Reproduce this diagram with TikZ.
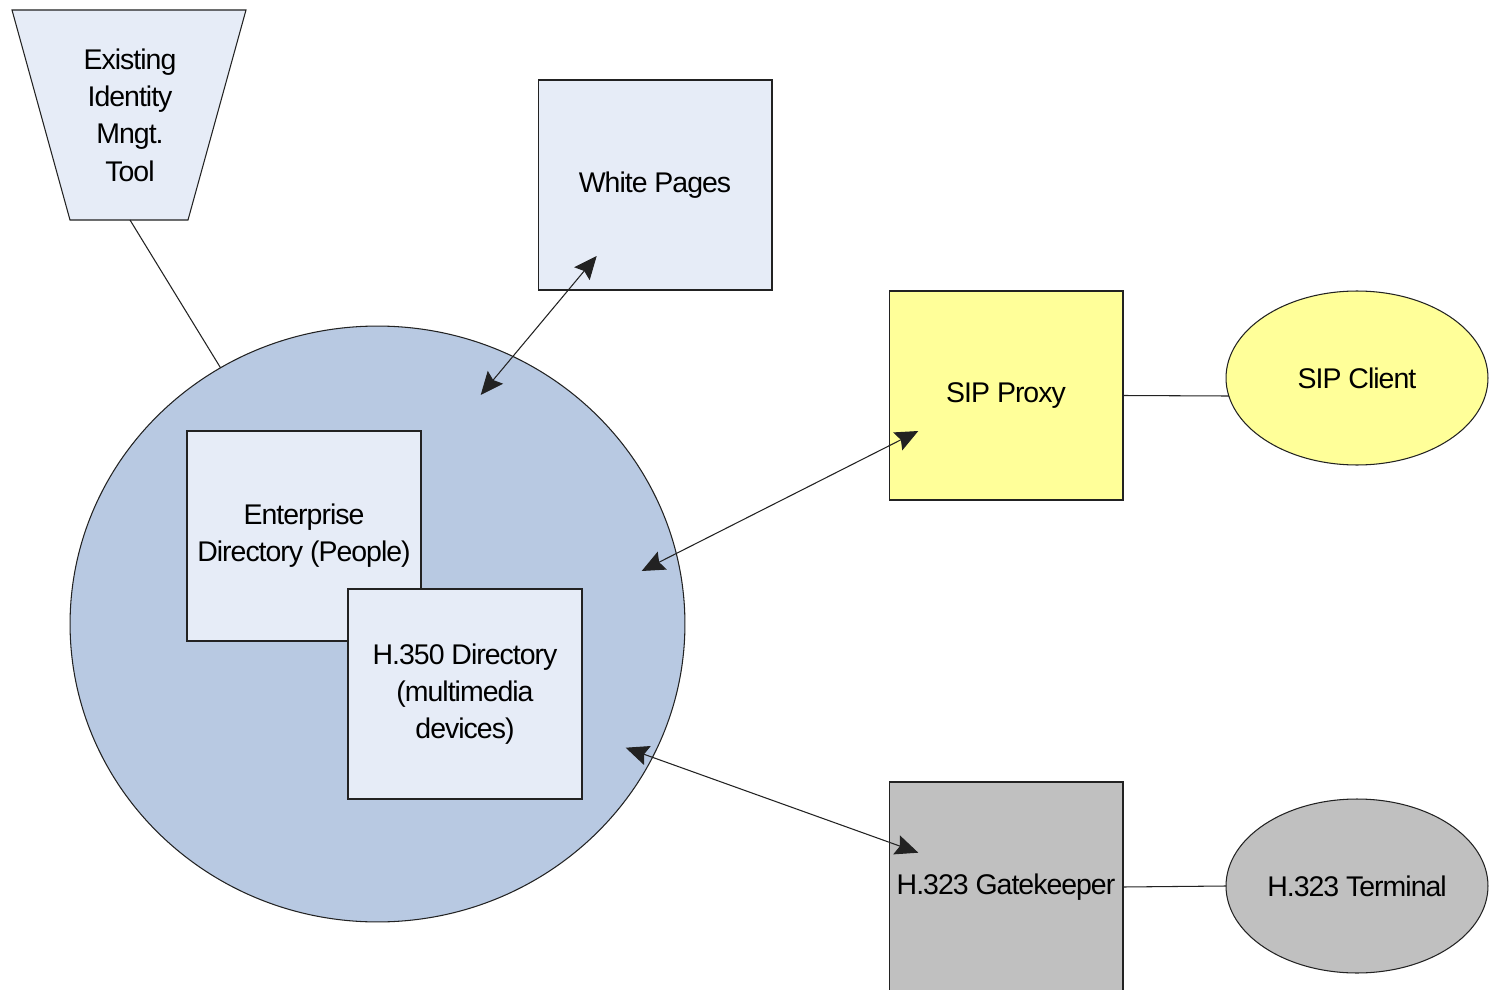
\documentclass[tikz,border=0pt]{standalone}
\usepackage{fontspec}
\setmainfont{Liberation Sans}[LetterSpace=-3.5]
\usetikzlibrary{arrows.meta,shapes.geometric}
\definecolor{paleblue}{HTML}{E6ECF7}
\definecolor{dirblue}{HTML}{B8C9E2}
\definecolor{sipyellow}{HTML}{FFFF99}
\definecolor{h323gray}{HTML}{C0C0C0}
\definecolor{edge}{HTML}{222222}
\begin{document}
\begin{tikzpicture}[x=0.02cm,y=-0.02cm,
  every node/.style={font=\fontsize{16.2}{21.2}\selectfont, align=center, inner sep=0pt, outer sep=0pt},
  box/.style={draw=edge, line width=0.6pt, rectangle, minimum width=4.68cm, minimum height=4.2cm},
  oval/.style={draw=edge, line width=0.6pt, ellipse, minimum width=5.24cm, minimum height=3.48cm},
  link/.style={draw=edge, line width=0.6pt},
  dblarrow/.style={link, {Stealth[length=0.46cm,width=0.4cm,inset=0.07cm]}-{Stealth[length=0.46cm,width=0.4cm,inset=0.07cm]}}
]
\useasboundingbox (0,0) rectangle (1492,990);
\fill[white] (0,0) rectangle (1492,990);

% identity management tool (trapezoid)
\draw[draw=edge, fill=paleblue, line width=0.6pt] (12,10) -- (246,10) -- (188,220) -- (70,220) -- cycle;
\node (tool) at (130,115) {Existing\\Identity\\Mngt.\\Tool};
\coordinate (toolbot) at (130,220);

\node[box, fill=paleblue] (wp) at (655,185) {White Pages};
\node[draw=edge, line width=0.6pt, ellipse, fill=dirblue, minimum width=12.3cm, minimum height=11.92cm] (dir) at (377.5,624) {};
\node[box, fill=paleblue] (ent) at (304,536) {Enterprise\\Directory (People)};
\node[box, fill=paleblue] (h350) at (465,694) {H.350 Directory\\(multimedia\\devices)};
\node[box, fill=sipyellow, minimum height=4.18cm] (sip) at (1006,395.5) {SIP Proxy};
\node[oval, fill=sipyellow] (sipc) at (1357,378) {SIP Client};
\node[box, fill=h323gray] (gk) at (1006,887) {H.323 Gatekeeper};
\node[oval, fill=h323gray] (term) at (1357,886) {H.323 Terminal};

% plain links
\draw[link] (toolbot) -- (dir);
\draw[link] (sip.east) -- (sipc.188.5);
\draw[link] (gk.east) -- (term.west);

% double-headed arrows
\coordinate (dirTop) at (480.7,395);
\coordinate (wpIn) at (596.7,256);
\coordinate (dirRight) at (641.7,571);
\coordinate (sipIn) at (918.3,431);
\coordinate (dirLow) at (625.7,747.7);
\coordinate (gkIn) at (918.3,852.7);
\draw[dblarrow] (dirTop) -- (wpIn);
\draw[dblarrow] (dirRight) -- (sipIn);
\draw[dblarrow] (dirLow) -- (gkIn);
\end{tikzpicture}
\end{document}
